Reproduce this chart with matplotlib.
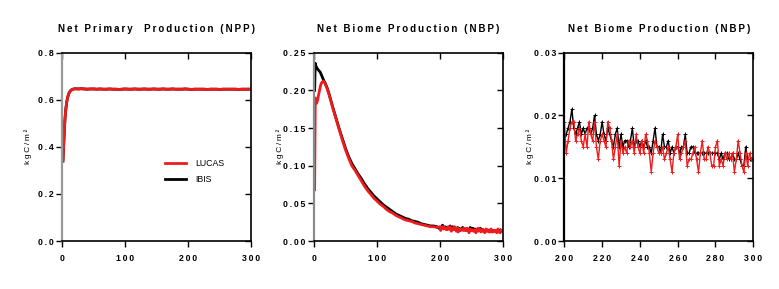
import matplotlib
matplotlib.use('Agg')
import matplotlib.pyplot as plt

plt.rcParams['font.family'] = ['Liberation Sans', 'DejaVu Sans']

# ---- NPP (kgC/m2), annual for the spin-up, then every 5 years
npp_years = list(range(1, 21)) + list(range(25, 301, 5))
npp_lucas = [0.340, 0.400, 0.455, 0.510, 0.545, 0.570, 0.590, 0.605, 0.615, 0.625,
             0.630, 0.635, 0.638, 0.641, 0.643, 0.644, 0.645, 0.646, 0.646, 0.647,
             0.646, 0.647, 0.646, 0.645, 0.646, 0.646, 0.645, 0.646, 0.645, 0.645,
             0.646, 0.645, 0.645, 0.644, 0.645, 0.646, 0.645, 0.645, 0.646, 0.645,
             0.645, 0.646, 0.645, 0.645, 0.646, 0.645, 0.645, 0.646, 0.645, 0.645,
             0.646, 0.645, 0.645, 0.645, 0.646, 0.645, 0.644, 0.645, 0.645, 0.645,
             0.645, 0.644, 0.645, 0.645, 0.645, 0.644, 0.645, 0.645, 0.645, 0.645,
             0.645, 0.644, 0.645, 0.645, 0.645, 0.645]
npp_ibis = list(npp_lucas)

# ---- NBP (kgC/m2), years 1-30 annual, 35-195 every 5 years
early_years = list(range(1, 31)) + list(range(35, 200, 5))
nbp_lucas_early = [0.068, 0.190, 0.186, 0.183, 0.185, 0.188, 0.193, 0.197, 0.201, 0.205,
                   0.208, 0.210, 0.211, 0.212, 0.212, 0.211, 0.210, 0.208, 0.206, 0.204,
                   0.202, 0.199, 0.197, 0.194, 0.191, 0.188, 0.185, 0.182, 0.179, 0.176,
                   0.162, 0.148, 0.134, 0.121, 0.110, 0.100, 0.094, 0.087, 0.080, 0.073,
                   0.067, 0.062, 0.057, 0.053, 0.049, 0.046, 0.042, 0.039, 0.037, 0.034,
                   0.032, 0.030, 0.028, 0.027, 0.026, 0.024, 0.023, 0.022, 0.021, 0.020,
                   0.019, 0.019, 0.018]
nbp_ibis_early = [0.200, 0.236, 0.232, 0.231, 0.229, 0.228, 0.227, 0.226, 0.225, 0.224,
                  0.222, 0.220, 0.218, 0.216, 0.214, 0.212, 0.211, 0.209, 0.207, 0.205,
                  0.203, 0.200, 0.198, 0.195, 0.192, 0.189, 0.186, 0.183, 0.180, 0.177,
                  0.163, 0.149, 0.136, 0.123, 0.112, 0.103, 0.096, 0.089, 0.083, 0.076,
                  0.070, 0.065, 0.060, 0.056, 0.052, 0.048, 0.045, 0.042, 0.039, 0.036,
                  0.034, 0.032, 0.030, 0.029, 0.027, 0.026, 0.025, 0.023, 0.022, 0.021,
                  0.020, 0.020, 0.019]

# ---- NBP years 200-300, annual
late_years = list(range(200, 301))
nbp_lucas_late = [0.019, 0.014, 0.016, 0.018, 0.019, 0.019, 0.016, 0.017, 0.018, 0.016,
                  0.015, 0.017, 0.015, 0.019, 0.017, 0.016, 0.019, 0.015, 0.013, 0.016,
                  0.017, 0.016, 0.015, 0.019, 0.018, 0.016, 0.013, 0.015, 0.017, 0.012,
                  0.016, 0.014, 0.015, 0.014, 0.016, 0.015, 0.016, 0.014, 0.017, 0.015,
                  0.014, 0.016, 0.014, 0.017, 0.016, 0.014, 0.011, 0.014, 0.016, 0.015,
                  0.014, 0.014, 0.015, 0.013, 0.014, 0.015, 0.013, 0.011, 0.014, 0.015,
                  0.017, 0.013, 0.014, 0.015, 0.016, 0.012, 0.013, 0.013, 0.014, 0.015,
                  0.013, 0.011, 0.014, 0.016, 0.013, 0.013, 0.015, 0.014, 0.012, 0.012,
                  0.015, 0.016, 0.012, 0.013, 0.012, 0.014, 0.013, 0.014, 0.013, 0.014,
                  0.011, 0.013, 0.016, 0.014, 0.012, 0.011, 0.014, 0.012, 0.014, 0.013,
                  0.013]
nbp_ibis_late = [0.016, 0.017, 0.018, 0.019, 0.021, 0.018, 0.017, 0.018, 0.019, 0.017,
                 0.018, 0.017, 0.018, 0.018, 0.017, 0.018, 0.020, 0.017, 0.016, 0.017,
                 0.019, 0.017, 0.016, 0.018, 0.017, 0.016, 0.015, 0.017, 0.018, 0.015,
                 0.017, 0.015, 0.016, 0.016, 0.015, 0.016, 0.018, 0.015, 0.016, 0.016,
                 0.015, 0.016, 0.015, 0.016, 0.015, 0.015, 0.014, 0.016, 0.018, 0.015,
                 0.015, 0.014, 0.017, 0.015, 0.015, 0.016, 0.014, 0.015, 0.014, 0.015,
                 0.015, 0.014, 0.015, 0.015, 0.017, 0.014, 0.014, 0.015, 0.015, 0.014,
                 0.014, 0.014, 0.014, 0.014, 0.014, 0.014, 0.014, 0.014, 0.014, 0.014,
                 0.014, 0.014, 0.013, 0.014, 0.013, 0.014, 0.014, 0.013, 0.013, 0.014,
                 0.013, 0.013, 0.014, 0.013, 0.012, 0.012, 0.015, 0.013, 0.013, 0.013,
                 0.013]

nbp_years = early_years + late_years
nbp_lucas = nbp_lucas_early + nbp_lucas_late
nbp_ibis = nbp_ibis_early + nbp_ibis_late

titles = ['Net Primary  Production (NPP)',
          'Net Biome Production (NBP)',
          'Net Biome Production (NBP)']
ylabel = 'kgC/m\u00b2'

RED = '#ee1c1c'
GAP = '\u2009'


def spaced(s):
    return GAP.join(s)


def style_axes(ax, xticks, xlabels, yticks, ylabels, left_color):
    ax.set_xticks(xticks)
    ax.set_xticklabels([spaced(s) for s in xlabels], fontsize=6.3, fontweight='bold')
    ax.set_yticks(yticks)
    ax.set_yticklabels([spaced(s) for s in ylabels], fontsize=6.3, fontweight='bold')
    ax.tick_params(direction='out', length=4, width=1, pad=2)
    ax.tick_params(axis='x', pad=5)
    for side in ['top', 'right', 'bottom']:
        ax.spines[side].set_linewidth(1.2)
        ax.spines[side].set_color('black')
    ax.spines['left'].set_linewidth(1.6)
    ax.spines['left'].set_color(left_color)
    # mirrored ticks pointing inwards
    sx = ax.secondary_xaxis('top')
    sx.set_xticks(xticks)
    sx.tick_params(direction='in', length=4, width=1, labeltop=False)
    sx.spines['top'].set_visible(False)
    sy = ax.secondary_yaxis('right')
    sy.set_yticks(yticks)
    sy.tick_params(direction='in', length=4, width=1, labelright=False)
    sy.spines['right'].set_visible(False)
    ax.set_ylabel(spaced(ylabel), fontsize=6)
    ax.yaxis.set_label_coords(-0.16, 0.5)


fig = plt.figure(figsize=(7.79, 2.89), dpi=100)
w, h = 0.2426, 0.6516
ax1 = fig.add_axes([0.080, 0.166, w, h])
ax2 = fig.add_axes([0.4031, 0.166, w, h])
ax3 = fig.add_axes([0.7244, 0.166, w, h])

# Panel 1: NPP
ax1.plot(npp_years, npp_ibis, color='black', lw=2.0, label='IBIS')
ax1.plot(npp_years, npp_lucas, color=RED, lw=2.0, label='LUCAS')
ax1.set_xlim(0, 300)
ax1.set_ylim(0, 0.8)
style_axes(ax1, [0, 100, 200, 300], ['0', '100', '200', '300'],
           [0, 0.2, 0.4, 0.6, 0.8], ['0.0', '0.2', '0.4', '0.6', '0.8'], '#9a9a9a')
handles, labels = ax1.get_legend_handles_labels()
ax1.legend(handles[::-1], labels[::-1], frameon=False, fontsize=6.3,
           loc='center left', bbox_to_anchor=(0.5, 0.37),
           handlelength=2.4, handletextpad=1.1, labelspacing=0.75)

# Panel 2: NBP full run
ax2.plot(nbp_years, nbp_ibis, color='black', lw=2.0)
ax2.plot(nbp_years, nbp_lucas, color=RED, lw=2.0)
ax2.set_xlim(0, 300)
ax2.set_ylim(0, 0.25)
style_axes(ax2, [0, 100, 200, 300], ['0', '100', '200', '300'],
           [0, 0.05, 0.10, 0.15, 0.20, 0.25],
           ['0.00', '0.05', '0.10', '0.15', '0.20', '0.25'], '#8a8a8a')

# Panel 3: NBP last century
ax3.plot(late_years, nbp_ibis_late, color='black', lw=1.0, marker='+', ms=2.5, mew=0.7)
ax3.plot(late_years, nbp_lucas_late, color=RED, lw=1.0, marker='+', ms=2.5, mew=0.7)
ax3.set_xlim(200, 300)
ax3.set_ylim(0, 0.03)
style_axes(ax3, [200, 220, 240, 260, 280, 300],
           ['200', '220', '240', '260', '280', '300'],
           [0, 0.01, 0.02, 0.03], ['0.00', '0.01', '0.02', '0.03'], 'black')

for ax, t in zip([ax1, ax2, ax3], titles):
    ax.set_title(spaced(t), fontsize=7, fontweight='bold', pad=15)

fig.savefig('out.png', dpi=100)
